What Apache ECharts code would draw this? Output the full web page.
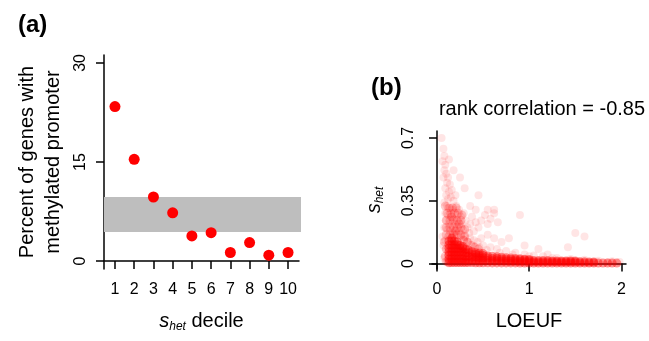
<!DOCTYPE html>
<html>
<head>
<meta charset="utf-8">
<script src="https://cdn.jsdelivr.net/npm/echarts@6/dist/echarts.min.js"></script>
<style>
  html, body { margin: 0; padding: 0; background: #fff; }
  #main { width: 649px; height: 341px; }
</style>
</head>
<body>
<div id="main"></div>
<script>
// panel (a): percent of genes with methylated promoter per s_het decile
var deciles = [1, 2, 3, 4, 5, 6, 7, 8, 9, 10];
var methylPct = [23.4, 15.4, 9.7, 7.3, 3.8, 4.3, 1.3, 2.8, 0.9, 1.3];
var bandLow = 4.4, bandHigh = 9.7;   // grey reference band
var ticksA = [0, 15, 30];

// panel (b): LOEUF vs s_het, read off the cloud by eye
// dense ridge near the x axis
var cloudCore = [
    [0.13,0.005],[0.13,0.025],[0.13,0.045],[0.13,0.065],[0.13,0.085],[0.13,0.105],[0.13,0.125],
    [0.16,0.005],[0.16,0.025],[0.16,0.045],[0.16,0.065],[0.16,0.085],[0.16,0.105],[0.16,0.125],[0.16,0.14],
    [0.19,0.005],[0.19,0.025],[0.19,0.045],[0.19,0.065],[0.19,0.085],[0.19,0.105],[0.19,0.125],
    [0.22,0.005],[0.22,0.025],[0.22,0.045],[0.22,0.065],[0.22,0.085],[0.22,0.105],[0.22,0.12],
    [0.25,0.005],[0.25,0.025],[0.25,0.045],[0.25,0.065],[0.25,0.085],[0.25,0.10],
    [0.28,0.005],[0.28,0.025],[0.28,0.045],[0.28,0.065],[0.28,0.085],[0.28,0.095],
    [0.31,0.005],[0.31,0.02],[0.31,0.04],[0.31,0.06],[0.31,0.08],
    [0.34,0.005],[0.34,0.02],[0.34,0.04],[0.34,0.06],[0.34,0.075],
    [0.38,0.005],[0.38,0.02],[0.38,0.035],[0.38,0.05],[0.38,0.065],
    [0.42,0.004],[0.42,0.02],[0.42,0.035],[0.42,0.05],[0.42,0.06],
    [0.46,0.004],[0.46,0.018],[0.46,0.032],[0.46,0.046],[0.46,0.058],
    [0.50,0.004],[0.50,0.018],[0.50,0.032],[0.50,0.045],[0.50,0.055],
    [0.55,0.004],[0.55,0.016],[0.55,0.03],[0.55,0.042],
    [0.60,0.003],[0.60,0.015],[0.60,0.028],[0.60,0.04],
    [0.65,0.003],[0.65,0.015],[0.65,0.027],[0.65,0.037],
    [0.70,0.003],[0.70,0.014],[0.70,0.025],[0.70,0.035],
    [0.75,0.003],[0.75,0.013],[0.75,0.024],[0.75,0.032],
    [0.80,0.003],[0.80,0.012],[0.80,0.022],[0.80,0.03],
    [0.85,0.003],[0.85,0.012],[0.85,0.021],[0.85,0.028],
    [0.90,0.002],[0.90,0.011],[0.90,0.02],[0.90,0.026],
    [0.95,0.002],[0.95,0.01],[0.95,0.019],[0.95,0.024],
    [1.00,0.002],[1.00,0.01],[1.00,0.018],[1.00,0.022],
    [1.05,0.002],[1.05,0.009],[1.05,0.016],[1.10,0.002],[1.10,0.009],[1.10,0.016],
    [1.15,0.002],[1.15,0.009],[1.15,0.016],[1.20,0.002],[1.20,0.009],[1.20,0.016],
    [1.25,0.002],[1.25,0.009],[1.25,0.014],[1.30,0.002],[1.30,0.009],[1.30,0.014],
    [1.35,0.002],[1.35,0.009],[1.35,0.014],[1.40,0.002],[1.40,0.009],[1.40,0.014],
    [1.45,0.002],[1.45,0.009],[1.45,0.014],[1.50,0.002],[1.50,0.009],[1.50,0.014],
    [1.55,0.002],[1.55,0.009],[1.60,0.002],[1.60,0.009],
    [1.65,0.002],[1.65,0.008],[1.70,0.002],[1.70,0.008],[1.75,0.002],
    [1.80,0.002],[1.85,0.002],[1.90,0.002],[1.95,0.002]
];
// the lump above the ridge at low LOEUF
var cloudMid = [
    [0.10,0.16],[0.14,0.16],[0.18,0.16],[0.22,0.16],[0.26,0.16],[0.30,0.15],
    [0.10,0.20],[0.14,0.20],[0.18,0.20],[0.22,0.20],[0.26,0.20],[0.30,0.19],
    [0.10,0.24],[0.14,0.24],[0.18,0.24],[0.22,0.24],[0.26,0.24],
    [0.11,0.28],[0.15,0.28],[0.19,0.28],[0.23,0.28],[0.27,0.27],
    [0.09,0.32],[0.13,0.31],[0.17,0.31],[0.21,0.31],
    [0.08,0.12],[0.10,0.08],[0.09,0.04],[0.10,0.01],[0.33,0.12],[0.37,0.10],
    [0.20,0.18],[0.24,0.22],[0.16,0.26],[0.29,0.13],[0.41,0.09],[0.45,0.08]
];
// sparse scatter around it
var cloudSpread = [
    [0.05,0.70],[0.07,0.64],[0.08,0.60],[0.06,0.57],[0.09,0.55],[0.08,0.52],
    [0.10,0.50],[0.12,0.48],[0.07,0.48],[0.11,0.45],[0.14,0.44],[0.09,0.42],
    [0.13,0.40],[0.16,0.41],[0.10,0.38],[0.12,0.36],[0.15,0.37],[0.18,0.35],
    [0.20,0.38],[0.08,0.34],[0.11,0.32],[0.14,0.31],[0.17,0.30],[0.21,0.32],
    [0.24,0.30],[0.09,0.28],[0.12,0.27],[0.15,0.26],[0.18,0.25],[0.22,0.27],
    [0.26,0.26],[0.29,0.28],[0.10,0.24],[0.13,0.22],[0.16,0.21],[0.19,0.22],
    [0.23,0.23],[0.27,0.22],[0.31,0.24],[0.11,0.19],[0.14,0.18],[0.17,0.17],
    [0.20,0.19],[0.24,0.18],[0.28,0.19],[0.33,0.20],[0.36,0.22],[0.12,0.15],
    [0.16,0.15],[0.21,0.16],[0.26,0.15],[0.30,0.16],[0.35,0.17],[0.40,0.18],
    [0.38,0.26],[0.42,0.23],[0.45,0.20],[0.48,0.24],[0.52,0.27],[0.55,0.22],
    [0.58,0.25],[0.62,0.28],[0.66,0.23],[0.45,0.38],[0.30,0.42],[0.25,0.48],
    [0.18,0.52],[0.13,0.58],[0.62,0.30],[0.55,0.30],[0.90,0.27],[0.42,0.30],
    [0.36,0.32],[0.78,0.14],[1.10,0.08],[1.42,0.09],[1.60,0.15],[1.50,0.17],
    [0.95,0.10],[1.20,0.05],[0.70,0.12],[0.62,0.14],[0.55,0.16],[0.48,0.14],
    [0.44,0.12],[0.40,0.13],[0.36,0.14],[0.50,0.10],[0.58,0.09],[0.65,0.08],
    [0.75,0.07],[0.85,0.06],[0.95,0.05],[1.05,0.045],[1.15,0.04],[1.30,0.03],
    [1.45,0.025],[1.60,0.02],[1.75,0.015],[1.90,0.012],[1.98,0.008],[0.33,0.12],
    [0.29,0.13],[0.39,0.10],[0.46,0.09],[0.54,0.075],[0.68,0.06],[0.82,0.05],
    [1.00,0.04],[1.25,0.03],[1.55,0.012],[1.70,0.008],[1.85,0.006],[0.08,0.20],
    [0.09,0.13],[0.07,0.10],[0.10,0.08],[0.12,0.05],[0.08,0.03],[0.11,0.01],
    [0.13,0.0],[0.06,0.15]
];
var ticksBx = [0, 1, 2];
var ticksBy = [0, 0.35, 0.7];

var myChart = echarts.init(document.getElementById('main'));
var font = '"Liberation Sans", Arial, sans-serif';
var axisCol = '#000';

function axisCommon() {
    return {
        axisLine: { show: true, lineStyle: { color: axisCol, width: 1.5 } },
        axisTick: { show: true, length: 8, lineStyle: { color: axisCol, width: 1.5 } },
        splitLine: { show: false },
        axisLabel: { show: true, color: '#000', fontSize: 16, fontFamily: font }
    };
}

var subRich = {
    s: { fontStyle: 'italic', fontSize: 20, fontFamily: font, color: '#000' },
    h: { fontStyle: 'italic', fontSize: 12, fontFamily: font, color: '#000', padding: [12, 0, 0, 0] },
    t: { fontSize: 20, fontFamily: font, color: '#000' }
};

var xA = axisCommon();
Object.assign(xA, {
    type: 'value', gridIndex: 0, min: 0.43, max: 10.57,
    name: '{s|s}{h|het}{t| decile}', nameLocation: 'middle', nameGap: 40,
    nameTextStyle: { rich: subRich }
});
xA.axisTick.customValues = deciles;
xA.axisLabel.customValues = deciles;
xA.axisLabel.margin = 13;

var yA = axisCommon();
Object.assign(yA, {
    type: 'value', gridIndex: 0, min: -1.2, max: 31.2,
    name: 'Percent of genes with\nmethylated promoter', nameLocation: 'middle', nameGap: 38,
    nameTextStyle: { fontSize: 20, lineHeight: 26, fontFamily: font, color: '#000' }
});
yA.axisTick.customValues = ticksA;
yA.axisLabel.customValues = ticksA;
yA.axisLabel.rotate = 90;
yA.axisLabel.margin = 15;

var xB = axisCommon();
Object.assign(xB, {
    type: 'value', gridIndex: 1, min: -0.054, max: 2.05,
    name: 'LOEUF', nameLocation: 'middle', nameGap: 42,
    nameTextStyle: { fontSize: 20, fontFamily: font, color: '#000' }
});
xB.axisTick.customValues = ticksBx;
xB.axisLabel.customValues = ticksBx;
xB.axisLabel.margin = 13;

var yB = axisCommon();
Object.assign(yB, {
    type: 'value', gridIndex: 1, min: -0.031, max: 0.739,
    name: '{s|s}{h|het}', nameLocation: 'middle', nameGap: 46,
    nameTextStyle: { rich: subRich }
});
yB.axisTick.customValues = ticksBy;
yB.axisLabel.customValues = ticksBy;
yB.axisLabel.rotate = 90;
yB.axisLabel.margin = 15;

var option = {
    animation: false,
    backgroundColor: '#fff',
    textStyle: { fontFamily: font, fontSize: 16 },
    title: [
        { text: '(a)', left: 13, top: 8, textStyle: { fontSize: 24, fontWeight: 'bold', fontFamily: font, color: '#000' } },
        { text: '(b)', left: 366, top: 71, textStyle: { fontSize: 24, fontWeight: 'bold', fontFamily: font, color: '#000' } },
        { text: 'rank correlation = -0.85', left: 537, textAlign: 'center', top: 94, textStyle: { fontSize: 20, fontWeight: 'normal', fontFamily: font, color: '#000' } }
    ],
    grid: [
        { left: 104, top: 55, width: 195, height: 214 },
        { left: 432, top: 131, width: 194, height: 138 }
    ],
    xAxis: [xA, xB],
    yAxis: [yA, yB],
    series: [
        {
            type: 'scatter', xAxisIndex: 0, yAxisIndex: 0, z: 1,
            data: [], symbolSize: 0,
            markArea: {
                silent: true,
                itemStyle: { color: '#bebebe', opacity: 1 },
                data: [[{ yAxis: bandLow, x: 104 }, { yAxis: bandHigh, x: 301 }]]
            }
        },
        {
            type: 'scatter', xAxisIndex: 0, yAxisIndex: 0, z: 3,
            symbol: 'circle', symbolSize: 11,
            itemStyle: { color: '#ff0000', opacity: 1 },
            data: deciles.map(function (d, i) { return [d, methylPct[i]]; })
        },
        {
            type: 'scatter', xAxisIndex: 1, yAxisIndex: 1, z: 2,
            symbol: 'circle', symbolSize: 8,
            itemStyle: { color: '#ff0000', opacity: 0.1 },
            data: cloudSpread
        },
        {
            type: 'scatter', xAxisIndex: 1, yAxisIndex: 1, z: 2,
            symbol: 'circle', symbolSize: 9,
            itemStyle: { color: '#ff0000', opacity: 0.2 },
            data: cloudMid
        },
        {
            type: 'scatter', xAxisIndex: 1, yAxisIndex: 1, z: 2,
            symbol: 'circle', symbolSize: 9,
            itemStyle: { color: '#ff0000', opacity: 0.42 },
            data: cloudCore
        }
    ]
};

myChart.setOption(option);
</script>
</body>
</html>
